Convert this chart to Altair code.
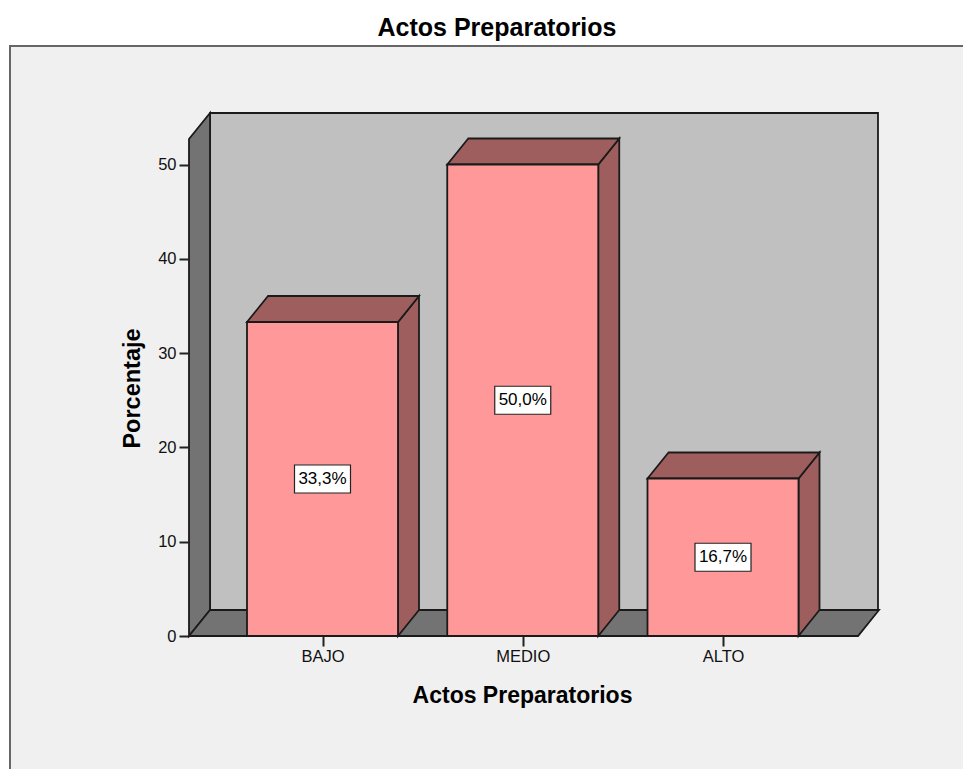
import altair as alt
import pandas as pd

categories = ["BAJO", "MEDIO", "ALTO"]
positions = [0, 1, 2]
values = [33.3, 50.0, 16.7]
labels = ["33,3%", "50,0%", "16,7%"]
y_ticks = [0, 10, 20, 30, 40, 50]

PX_X = 200.25
PX_Y = 9.43
HALF = 75.5 / PX_X
DX = 21 / PX_X
DY = 26 / PX_Y
X_MIN = -133.5 / PX_X
X_MAX = X_MIN + 689 / PX_X
Y_MAX = 523 / PX_Y
FLOOR_R = X_MIN + 669 / PX_X
BOX_W = 28 / PX_X
BOX_H = 14 / PX_Y

FONT = "Liberation Sans"
EDGE = "#1a1a1a"
EDGE_W = 1.8

x_scale = alt.Scale(domain=[X_MIN, X_MIN + 690 / PX_X], nice=False, zero=False)
y_scale = alt.Scale(domain=[0, Y_MAX], nice=False, zero=False)
label_expr = "datum.value == 0 ? 'BAJO' : datum.value == 1 ? 'MEDIO' : 'ALTO'"

bars = pd.DataFrame({"cat": categories, "pos": positions, "val": values, "lab": labels})
bars["l"] = bars.pos - HALF
bars["r"] = bars.pos + HALF
bars["mid"] = bars.val / 2
bars["bl"] = bars.pos - BOX_W
bars["br"] = bars.pos + BOX_W
bars["bb"] = bars.mid - BOX_H
bars["bt"] = bars.mid + BOX_H


def horizontal_para(frame, color):
    rows = []
    for i, row in enumerate(frame):
        l, r, v = row
        rows += [dict(g=i, y=v, a=l, b=r), dict(g=i, y=v + DY, a=l + DX, b=r + DX)]
    return alt.Chart(pd.DataFrame(rows)).mark_area(
        orient="horizontal", color=color, stroke=EDGE, strokeWidth=EDGE_W, clip=False
    ).encode(
        y=alt.Y("y:Q", scale=y_scale, axis=None),
        x=alt.X("a:Q", scale=x_scale, axis=None),
        x2="b:Q",
        detail="g:N",
    )


def vertical_para(frame, color):
    rows = []
    for i, row in enumerate(frame):
        x0, lo, hi = row
        rows += [dict(g=i, x=x0, a=lo, b=hi), dict(g=i, x=x0 + DX, a=lo + DY, b=hi + DY)]
    return alt.Chart(pd.DataFrame(rows)).mark_area(
        orient="vertical", color=color, stroke=EDGE, strokeWidth=EDGE_W, clip=False
    ).encode(
        x=alt.X("x:Q", scale=x_scale, axis=None),
        y=alt.Y("a:Q", scale=y_scale, axis=None),
        y2="b:Q",
        detail="g:N",
    )


panel = alt.Chart(pd.DataFrame({"k": [0]})).mark_rect(
    fill="#f0f0f0", stroke="#666666", strokeWidth=2, clip=False
).encode(
    x=alt.value(-179), x2=alt.value(790), y=alt.value(-67), y2=alt.value(700)
)

wall = alt.Chart(pd.DataFrame({"x": [X_MIN + DX], "x2": [X_MAX], "y": [DY], "y2": [Y_MAX]})).mark_rect(
    fill="#c0c0c0", stroke=EDGE, strokeWidth=EDGE_W
).encode(x=alt.X("x:Q", scale=x_scale, axis=None), x2="x2:Q",
         y=alt.Y("y:Q", scale=y_scale, axis=None), y2="y2:Q")

left_wall = vertical_para([(X_MIN, 0, Y_MAX - DY)], "#737373")
floor = horizontal_para([(X_MIN, FLOOR_R, 0)], "#737373")

sides = vertical_para([(p + HALF, 0, v) for p, v in zip(positions, values)], "#9e5e5e")
tops = horizontal_para([(p - HALF, p + HALF, v) for p, v in zip(positions, values)], "#9e5e5e")

fronts = alt.Chart(bars).mark_rect(fill="#ff9999", stroke=EDGE, strokeWidth=EDGE_W).encode(
    x=alt.X("l:Q", scale=x_scale, axis=None), x2="r:Q",
    y=alt.Y("val:Q", scale=y_scale, axis=None), y2=alt.datum(0),
)

boxes = alt.Chart(bars).mark_rect(fill="white", stroke="#222222", strokeWidth=1.2).encode(
    x=alt.X("bl:Q", scale=x_scale, axis=None), x2="br:Q",
    y=alt.Y("bb:Q", scale=y_scale, axis=None), y2="bt:Q",
)
texts = alt.Chart(bars).mark_text(font=FONT, fontSize=17, color="black").encode(
    x=alt.X("pos:Q", scale=x_scale, axis=None),
    y=alt.Y("mid:Q", scale=y_scale, axis=None),
    text="lab:N",
)

axes = alt.Chart(pd.DataFrame({"pos": positions, "val": values})).mark_point(opacity=0).encode(
    x=alt.X("pos:Q", scale=x_scale, axis=alt.Axis(
        values=positions, labelExpr=label_expr, title="Actos Preparatorios", zindex=1,
        domain=False, grid=False, tickColor="#222222", tickSize=10, tickWidth=2,
        labelFont=FONT, labelFontSize=16.5, labelColor="#111111", labelPadding=2,
        titleFont=FONT, titleFontSize=23, titleFontWeight="bold", titleColor="black",
        titlePadding=20, titleX=333, labelFlush=False)),
    y=alt.Y("val:Q", scale=y_scale, axis=alt.Axis(
        values=y_ticks, title="Porcentaje", zindex=1,
        domain=False, grid=False, tickColor="#222222", tickSize=10, tickWidth=2,
        labelFont=FONT, labelFontSize=16.5, labelColor="#111111", labelPadding=3,
        titleFont=FONT, titleFontSize=23.5, titleFontWeight="bold", titleColor="black",
        titlePadding=13, titleY=275)),
)

chart = alt.layer(
    panel, axes, wall, left_wall, floor, sides, tops, fronts, boxes, texts
).resolve_scale(x="shared", y="shared").resolve_axis(x="independent", y="independent").properties(
    width=690,
    height=523,
    title=alt.TitleParams(
        "Actos Preparatorios", font=FONT, fontSize=25, fontWeight="bold", color="black",
        anchor="middle", dx=-37, offset=4,
    ),
    autosize=alt.AutoSizeParams(type="none"),
    padding={"left": 181, "top": 105, "right": 84, "bottom": 133},
    background="white",
).configure_view(stroke=None)

chart.save("out.html", embed_options={"renderer": "svg", "actions": False})
